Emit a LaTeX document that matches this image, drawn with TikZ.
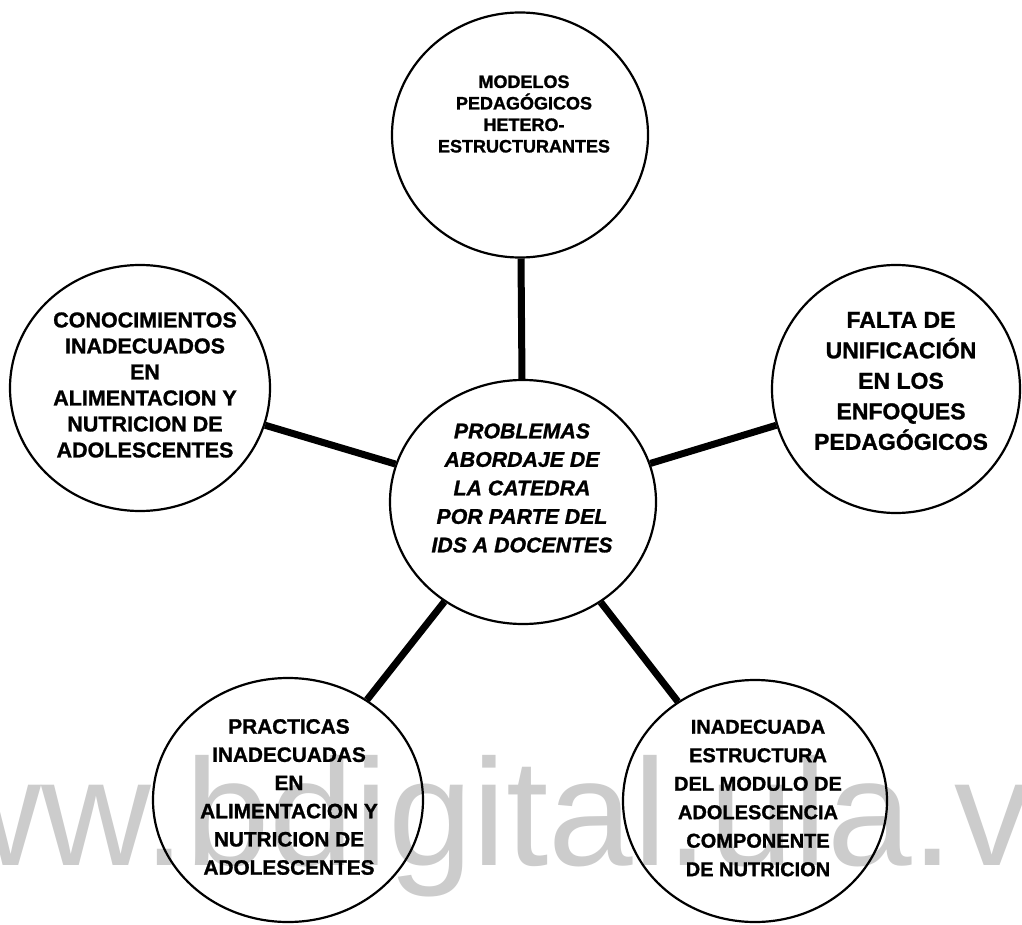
\documentclass[tikz,border=0pt]{standalone}
\usepackage{fontspec}
\setmainfont{Liberation Sans}[BoldFeatures={FakeBold=1.2},BoldItalicFeatures={FakeBold=1.2}]
\usetikzlibrary{shapes.geometric}
\begin{document}
\begin{tikzpicture}[x=1pt,y=-1pt,
  bubble/.style={ellipse, draw=black, line width=2.2pt, inner sep=0pt},
  conn/.style={draw=black, line width=7pt},
  lbl/.style={align=center, inner sep=0pt, text=black},
  ]
\path[fill=white] (0,0) rectangle (1022,925);
\useasboundingbox (0,0) rectangle (1022,925);
% watermark
\node[anchor=base west, inner sep=0pt, text=black!20,
      font=\fontsize{152}{152}\selectfont] (wm) at (-178,865) {www.bdigital.ula.ve};
% circles
\node[bubble, minimum width=256pt, minimum height=245pt] (top) at (520,135) {};
\node[bubble, minimum width=260pt, minimum height=246pt] (left) at (140,388) {};
\node[bubble, minimum width=248pt, minimum height=248pt] (right) at (896,389) {};
\node[bubble, minimum width=266pt, minimum height=244pt] (mid) at (523,502) {};
\node[bubble, minimum width=270pt, minimum height=244pt] (bl) at (288,800) {};
\node[bubble, minimum width=264pt, minimum height=242pt] (br) at (755,801) {};
% connectors
\draw[conn] (mid) -- (top);
\draw[conn] (mid) -- (left);
\draw[conn] (mid) -- (right);
\draw[conn] (mid) -- (bl);
\draw[conn] (mid) -- (br);
% texts
\node[lbl, font=\fontsize{18}{21.5}\selectfont\bfseries] (toptext) at (524,114)
  {MODELOS\\PEDAGÓGICOS\\HETERO-\\ESTRUCTURANTES};
\node[lbl, font=\fontsize{21.5}{26}\selectfont\bfseries] (lefttext) at (145,385)
  {CONOCIMIENTOS\\INADECUADOS\\EN\\ALIMENTACION Y\\NUTRICION DE\\ADOLESCENTES};
\node[lbl, font=\fontsize{23}{30.5}\selectfont\bfseries] (righttext) at (901,381)
  {FALTA DE\\UNIFICACIÓN\\EN LOS\\ENFOQUES\\PEDAGÓGICOS};
\node[lbl, font=\fontsize{21.3}{28.5}\selectfont\bfseries\itshape] (midtext) at (522,488)
  {PROBLEMAS\\ABORDAJE DE\\LA CATEDRA\\POR PARTE DEL\\IDS A DOCENTES};
\node[lbl, font=\fontsize{20.8}{28.2}\selectfont\bfseries] (bltext) at (289,797)
  {PRACTICAS\\INADECUADAS\\EN\\ALIMENTACION Y\\NUTRICION DE\\ADOLESCENTES};
\node[lbl, font=\fontsize{20}{28.5}\selectfont\bfseries] (brtext) at (758,798)
  {INADECUADA\\ESTRUCTURA\\DEL MODULO DE\\ADOLESCENCIA\\COMPONENTE\\DE NUTRICION};
\end{tikzpicture}
\end{document}
